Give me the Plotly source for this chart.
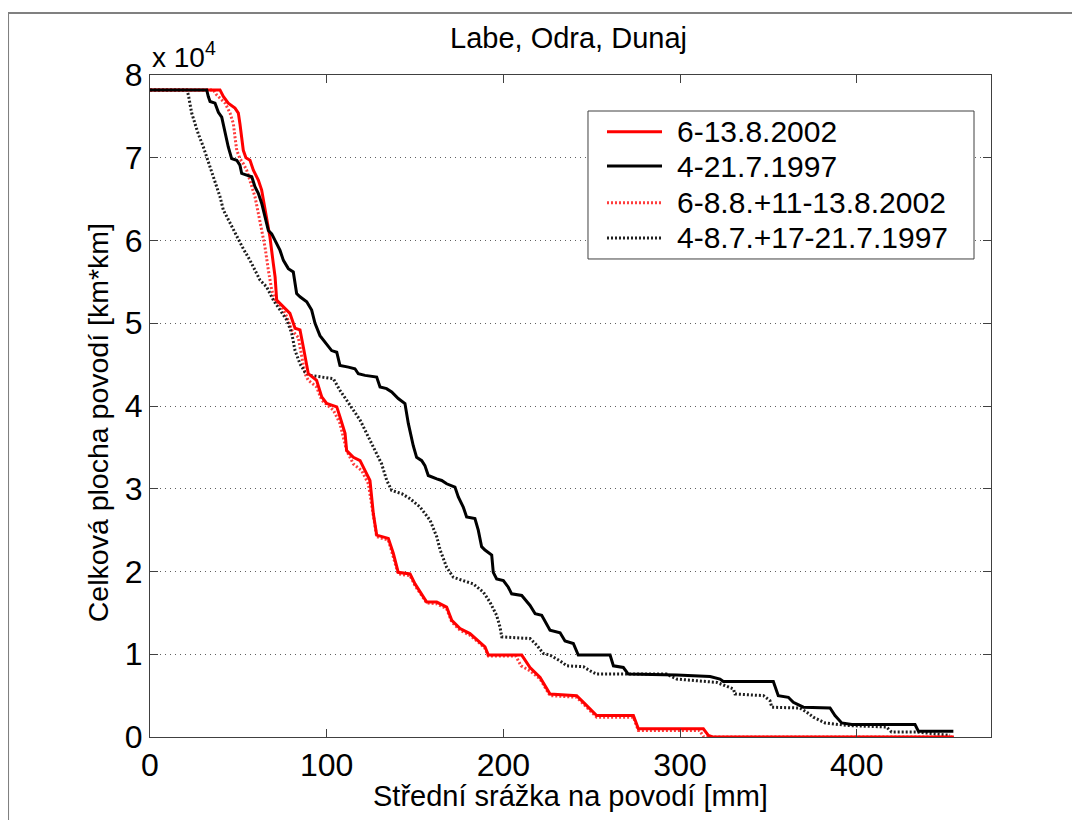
import plotly.graph_objects as go

# x: mean basin precipitation [mm], y: total basin area [x 10^4 km*km]
red_x = [0, 39.6, 41.5, 44.3, 48.1, 50.0, 50.9, 51.9, 52.8, 54.3, 56.6, 58.5, 61.3, 63.2, 64.5, 66.0, 67.9,
         69.8, 70.8, 71.7, 75.5, 79.2, 82.1, 84.9, 86.8, 88.7, 89.6, 94.3, 97.2, 100.0, 105.7, 107.5, 110.4,
         111.3, 115.1, 118.9, 121.7, 124.5, 126.4, 128.3, 134.9, 137.7, 140.5, 147.2, 150.0, 156.6, 162.3,
         167.9, 170.8, 175.5, 181.1, 186.8, 189.6, 191.5, 210.4, 215.1, 220.8, 226.4, 241.5, 246.2, 252.8,
         273.6, 276.4, 313.2, 316.0, 318.5, 455]
red_y = [7.82, 7.82, 7.74, 7.66, 7.60, 7.54, 7.41, 7.25, 7.09, 7.00, 6.97, 6.85, 6.73, 6.61, 6.45, 6.25, 6.04,
         5.72, 5.56, 5.28, 5.20, 5.12, 4.94, 4.92, 4.71, 4.47, 4.39, 4.31, 4.11, 4.03, 3.99, 3.87, 3.67,
         3.46, 3.38, 3.34, 3.22, 3.10, 2.70, 2.44, 2.40, 2.22, 1.99, 1.97, 1.85, 1.63, 1.63,
         1.57, 1.41, 1.31, 1.25, 1.15, 1.09, 0.99, 0.99, 0.84, 0.72, 0.52, 0.50, 0.40, 0.26,
         0.26, 0.10, 0.10, 0.02, 0.0, 0.0]

black_x = [0, 32.1, 33.0, 34.0, 36.8, 38.7, 40.6, 42.5, 44.3, 46.2, 49.1, 50.9, 51.9, 54.7, 57.6, 59.4, 61.3,
           63.2, 65.1, 67.0, 68.9, 70.8, 73.6, 75.5, 78.3, 81.1, 83.0, 84.9, 88.7, 91.5, 93.4, 96.2, 100.0,
           102.8, 105.7, 107.5, 112.3, 116.0, 117.9, 121.7, 128.3, 130.2, 133.9, 136.8, 140.5, 144.3, 146.2,
           149.0, 150.9, 153.8, 155.6, 157.5, 162.3, 165.1, 167.9, 172.6, 174.5, 177.3, 179.2, 183.9, 185.8,
           187.7, 189.6, 193.4, 194.3, 196.2, 200.0, 202.8, 204.7, 210.4, 215.1, 218.0, 221.7, 225.5, 226.4,
           232.1, 234.9, 239.6, 242.4, 260.4, 262.3, 267.9, 270.7, 298.1, 317.0, 322.6, 324.5, 352.8, 355.6,
           361.3, 364.1, 369.8, 384.9, 387.7, 391.5, 397.2, 433.0, 434.9, 454.7]
black_y = [7.82, 7.82, 7.74, 7.68, 7.66, 7.55, 7.49, 7.29, 7.13, 6.99, 6.97, 6.91, 6.81, 6.79, 6.77, 6.65, 6.57,
           6.45, 6.29, 6.12, 6.08, 6.00, 5.88, 5.76, 5.66, 5.62, 5.36, 5.32, 5.26, 5.16, 5.00, 4.85, 4.75,
           4.67, 4.65, 4.49, 4.47, 4.45, 4.39, 4.37, 4.35, 4.23, 4.21, 4.17, 4.09, 4.03, 3.79,
           3.52, 3.38, 3.34, 3.28, 3.16, 3.12, 3.10, 3.06, 3.02, 2.90, 2.78, 2.66, 2.64, 2.50,
           2.30, 2.26, 2.20, 1.99, 1.91, 1.89, 1.81, 1.73, 1.71, 1.59, 1.49, 1.47, 1.33, 1.29,
           1.26, 1.16, 1.13, 0.99, 0.99, 0.86, 0.84, 0.76, 0.75, 0.73, 0.70, 0.67, 0.67, 0.50,
           0.48, 0.42, 0.36, 0.35, 0.26, 0.17, 0.15, 0.15, 0.07, 0.07]

red_dot_x = [0, 35.8, 37.7, 42.5, 45.3, 47.2, 48.1, 49.1, 50.9, 52.8, 54.7, 56.6, 59.4, 61.3, 63.2, 65.1, 67.0,
             68.9, 70.8, 74.5, 77.4, 80.2, 83.9, 85.8, 87.7, 89.6, 94.3, 97.2, 103.8, 107.5, 109.4, 111.3,
             115.1, 119.8, 123.6, 126.4, 128.3, 134.9, 137.7, 140.5, 147.2, 150.0, 156.6, 162.3, 167.9, 170.8,
             175.5, 181.1, 186.8, 189.6, 191.5, 207.0, 210.0, 215.1, 220.8, 226.4, 241.5, 246.2, 252.8, 273.6,
             276.4, 311.0, 313.5, 455]
red_dot_y = [7.82, 7.82, 7.76, 7.66, 7.54, 7.41, 7.25, 7.09, 6.99, 6.93, 6.85, 6.73, 6.53, 6.33, 6.12, 5.92, 5.64,
             5.40, 5.28, 5.20, 5.08, 4.92, 4.83, 4.59, 4.39, 4.31, 4.23, 4.07, 3.95, 3.79, 3.63, 3.46,
             3.30, 3.22, 3.06, 2.66, 2.42, 2.38, 2.18, 1.97, 1.95, 1.83, 1.62, 1.61, 1.55, 1.39,
             1.29, 1.23, 1.13, 1.07, 0.98, 0.98, 0.86, 0.80, 0.70, 0.50, 0.48, 0.38, 0.24, 0.24,
             0.08, 0.08, 0.0, 0.0]

black_dot_x = [0, 20.8, 21.7, 22.6, 23.6, 25.5, 27.3, 30.2, 32.1, 34.0, 35.8, 37.7, 39.6, 41.5, 45.3, 49.1, 52.8,
               56.6, 59.4, 62.3, 66.0, 69.8, 73.6, 77.4, 80.2, 82.1, 84.9, 87.7, 90.6, 98.1, 103.8, 107.5,
               111.3, 115.1, 118.9, 122.6, 125.5, 128.3, 131.1, 134.0, 136.8, 142.5, 147.2, 152.8, 158.5, 162.3,
               164.2, 167.9, 171.7, 177.3, 183.0, 188.7, 192.4, 196.2, 198.1, 199.1, 215.1, 218.9, 222.6, 226.4,
               232.1, 235.9, 245.3, 249.0, 252.8, 292.4, 298.1, 309.4, 320.8, 330.2, 331.1, 347.2, 350.9, 351.9,
               367.9, 371.7, 375.4, 379.2, 382.1, 394.3, 416.9, 419.7, 433.9, 452.8]
black_dot_y = [7.82, 7.82, 7.76, 7.66, 7.54, 7.41, 7.29, 7.13, 7.01, 6.89, 6.77, 6.65, 6.53, 6.37, 6.21, 6.04, 5.90,
               5.76, 5.64, 5.52, 5.44, 5.28, 5.16, 5.04, 4.88, 4.67, 4.51, 4.41, 4.37, 4.35, 4.33, 4.19,
               4.07, 3.95, 3.83, 3.67, 3.55, 3.42, 3.30, 3.10, 2.98, 2.94, 2.88, 2.78, 2.62, 2.42,
               2.26, 2.05, 1.93, 1.89, 1.85, 1.75, 1.63, 1.47, 1.33, 1.21, 1.19, 1.11, 1.01, 0.99,
               0.92, 0.86, 0.85, 0.80, 0.76, 0.76, 0.70, 0.68, 0.66, 0.58, 0.52, 0.50, 0.44, 0.36,
               0.35, 0.30, 0.24, 0.20, 0.17, 0.14, 0.12, 0.06, 0.06, 0.02]

x_ticks = [0, 100, 200, 300, 400]
y_ticks = [0, 1, 2, 3, 4, 5, 6, 7, 8]

legend_names = ["6-13.8.2002", "4-21.7.1997", "6-8.8.+11-13.8.2002", "4-8.7.+17-21.7.1997"]
legend_styles = [
    dict(color="red", width=3),
    dict(color="black", width=3),
    dict(color="rgb(255,60,60)", width=3, dash="2px,2px"),
    dict(color="rgb(30,30,30)", width=3, dash="2px,2px"),
]

FONT = "Liberation Sans, Arial, sans-serif"

fig = go.Figure()

# dotted series go first so the solid ones sit on top
fig.add_trace(go.Scatter(x=red_dot_x, y=red_dot_y, mode="lines", name=legend_names[2], line=legend_styles[2]))
fig.add_trace(go.Scatter(x=black_dot_x, y=black_dot_y, mode="lines", name=legend_names[3], line=legend_styles[3]))
fig.add_trace(go.Scatter(x=red_x, y=red_y, mode="lines", name=legend_names[0], line=legend_styles[0]))
fig.add_trace(go.Scatter(x=black_x, y=black_y, mode="lines", name=legend_names[1], line=legend_styles[1]))

# legend drawn by hand (MATLAB-style box with long line samples)
box = dict(x0=0.5208, x1=0.9798, y0=0.7221, y1=0.9456)
row_y = [0.9143, 0.8625, 0.8071, 0.7538]
shapes = [
    # figure window frame
    dict(type="rect", xref="paper", yref="paper", x0=-0.1688, y0=-0.2, x1=1.1023, y1=1.0937,
         line=dict(color="#808080", width=2), layer="below"),
    dict(type="rect", xref="paper", yref="paper", **box,
         fillcolor="white", line=dict(color="#404040", width=1), layer="above"),
]
annotations = []
for name, style, ry in zip(legend_names, legend_styles, row_y):
    shapes.append(dict(type="line", xref="paper", yref="paper", x0=0.5434, x1=0.6088, y0=ry, y1=ry,
                       line=style, layer="above"))
    annotations.append(dict(text=name, x=0.6243, y=ry, xref="paper", yref="paper", showarrow=False,
                            font=dict(size=30), xanchor="left", yanchor="middle"))

annotations += [
    dict(text="Labe, Odra, Dunaj", x=0.498, y=1.056, xref="paper", yref="paper",
         showarrow=False, font=dict(size=29), xanchor="center", yanchor="middle"),
    dict(text="x 10<sup>4</sup>", x=0.0, y=1.0, xref="paper", yref="paper",
         showarrow=False, font=dict(size=28), xanchor="left", yanchor="bottom"),
    dict(text="Střední srážka na povodí [mm]", x=0.5, y=-0.089, xref="paper", yref="paper",
         showarrow=False, font=dict(size=29), xanchor="center", yanchor="middle"),
    dict(text="Celková plocha povodí [km*km]", x=-0.0618, y=0.474, xref="paper", yref="paper",
         showarrow=False, font=dict(size=28.5), textangle=-90, xanchor="center", yanchor="middle"),
]

fig.update_layout(
    width=1080, height=820,
    margin=dict(l=142, r=97, t=67, b=91),
    paper_bgcolor="white", plot_bgcolor="white",
    font=dict(family=FONT, size=28, color="black"),
    showlegend=False,
    xaxis=dict(
        range=[0, 476], tickvals=x_ticks, ticks="inside", ticklen=8, tickcolor="#404040",
        showline=True, linecolor="#404040", linewidth=1, mirror="ticks",
        showgrid=False, zeroline=False, tickfont=dict(size=32),
    ),
    yaxis=dict(
        range=[0, 8], tickvals=y_ticks, ticks="inside", ticklen=8, tickcolor="#404040",
        showline=True, linecolor="#404040", linewidth=1, mirror="ticks",
        showgrid=True, gridcolor="#606060", griddash="1px,4px", gridwidth=1,
        zeroline=False, tickfont=dict(size=32),
    ),
    annotations=annotations,
    shapes=shapes,
)

fig.write_html("out.html")
